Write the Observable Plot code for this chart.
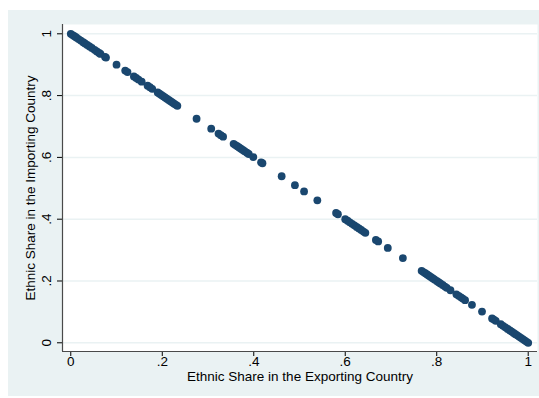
<!DOCTYPE html>
<html>
<head>
<meta charset="utf-8">
<script src="https://cdn.jsdelivr.net/npm/d3@7"></script>
<script src="https://cdn.jsdelivr.net/npm/@observablehq/plot@0.6"></script>
<style>
  html, body { margin: 0; padding: 0; background: #ffffff; }
  #wrap { position: relative; width: 539px; height: 398px; overflow: hidden; }
  #bg { position: absolute; left: 8px; top: 10px; width: 531px; height: 386px; background: #eaf2f3; }
  #chart { position: absolute; left: 0; top: 0; }
  #chart svg { background: transparent !important; }
</style>
</head>
<body>
<div id="wrap"><div id="bg"></div><div id="chart"></div></div>
<script>
// Ethnic share in the exporting country (x)
const exporting = [
  0, 0.004, 0.008, 0.012, 0.017, 0.022, 0.027, 0.031, 0.036, 0.041, 0.046, 0.052, 0.057, 0.062, 0.065,
  0.075, 0.077, 0.1, 0.119, 0.124, 0.138, 0.143, 0.148, 0.155, 0.168, 0.173, 0.178,
  0.19, 0.194, 0.198, 0.202, 0.206, 0.21, 0.214, 0.218, 0.222, 0.226, 0.23, 0.233,
  0.275, 0.307, 0.323, 0.328, 0.333, 0.356, 0.36, 0.364, 0.368, 0.372, 0.376, 0.38, 0.385, 0.389,
  0.399, 0.416, 0.419, 0.461, 0.49, 0.51, 0.539, 0.58, 0.584,
  0.6, 0.605, 0.61, 0.615, 0.62, 0.625, 0.63, 0.635, 0.64, 0.644, 0.667, 0.672, 0.693, 0.726,
  0.767, 0.771, 0.775, 0.779, 0.783, 0.787, 0.791, 0.795, 0.8, 0.804, 0.808, 0.813, 0.818, 0.822, 0.83,
  0.843, 0.848, 0.853, 0.857, 0.862, 0.877, 0.899, 0.921, 0.925, 0.929,
  0.94, 0.945, 0.95, 0.955, 0.96, 0.964, 0.968, 0.972, 0.976, 0.98, 0.984, 0.988, 0.992, 0.996, 1
];
// Ethnic share in the importing country (y)
const importing = [
  1, 0.996, 0.992, 0.988, 0.983, 0.978, 0.973, 0.969, 0.964, 0.959, 0.954, 0.948, 0.943, 0.938, 0.935,
  0.925, 0.923, 0.9, 0.881, 0.876, 0.862, 0.857, 0.852, 0.845, 0.832, 0.827, 0.822,
  0.81, 0.806, 0.802, 0.798, 0.794, 0.79, 0.786, 0.782, 0.778, 0.774, 0.77, 0.767,
  0.725, 0.693, 0.677, 0.672, 0.667, 0.644, 0.64, 0.636, 0.632, 0.628, 0.624, 0.62, 0.615, 0.611,
  0.601, 0.584, 0.581, 0.539, 0.51, 0.49, 0.461, 0.42, 0.416,
  0.4, 0.395, 0.39, 0.385, 0.38, 0.375, 0.37, 0.365, 0.36, 0.356, 0.333, 0.328, 0.307, 0.274,
  0.233, 0.229, 0.225, 0.221, 0.217, 0.213, 0.209, 0.205, 0.2, 0.196, 0.192, 0.187, 0.182, 0.178, 0.17,
  0.157, 0.152, 0.147, 0.143, 0.138, 0.123, 0.101, 0.079, 0.075, 0.071,
  0.06, 0.055, 0.05, 0.045, 0.04, 0.036, 0.032, 0.028, 0.024, 0.02, 0.016, 0.012, 0.008, 0.004, 0
];
const tickValues = [0, 0.2, 0.4, 0.6, 0.8, 1];
const tickLabels = ["0", ".2", ".4", ".6", ".8", "1"];
const xTitle = "Ethnic Share in the Exporting Country";
const yTitle = "Ethnic Share in the Importing Country";

const points = exporting.map((x, i) => ({x, y: importing[i]}));
const ticks = tickValues.map((v, i) => ({v, label: tickLabels[i]}));

const xDomain = [-0.0181, 1.0203];
const yDomain = [-0.0282, 1.0301];
const axisColor = "#4a4a4a";
const font = "Liberation Sans, Arial, Helvetica, sans-serif";
const fs = 13.5;

const chart = Plot.plot({
  width: 539,
  height: 398,
  marginLeft: 62,
  marginRight: 2,
  marginTop: 24,
  marginBottom: 47,
  style: {background: "transparent", fontFamily: font, fontSize: "13.5px", color: "#000"},
  x: {domain: xDomain, ticks: tickValues, tickSize: 5, tickFormat: () => "", label: null, line: false},
  y: {domain: yDomain, ticks: tickValues, tickSize: 5, tickFormat: () => "", label: null, line: false},
  marks: [
    Plot.frame({fill: "#ffffff", stroke: "none"}),
    Plot.ruleY(tickValues, {stroke: "#eaf2f3", strokeWidth: 1.5}),
    Plot.ruleX([xDomain[0]], {stroke: axisColor, strokeWidth: 1.2}),
    Plot.ruleY([yDomain[0]], {stroke: axisColor, strokeWidth: 1.2}),
    Plot.dot(points, {x: "x", y: "y", r: 3.9, fill: "#1a476f", stroke: "none"}),
    Plot.text(ticks, {x: "v", text: "label", frameAnchor: "bottom", textAnchor: "middle", dy: 14.5, fontSize: fs, fill: "#000"}),
    Plot.text(ticks, {y: "v", text: "label", frameAnchor: "left", textAnchor: "middle", dx: -16, rotate: -90, fontSize: fs, fill: "#000"}),
    Plot.text([xTitle], {text: d => d, frameAnchor: "bottom", textAnchor: "middle", dy: 29, fontSize: fs, fill: "#000"}),
    Plot.text([yTitle], {text: d => d, frameAnchor: "left", textAnchor: "middle", dx: -31.5, rotate: -90, fontSize: fs, fill: "#000"})
  ]
});
document.getElementById("chart").appendChild(chart);
</script>
</body>
</html>
